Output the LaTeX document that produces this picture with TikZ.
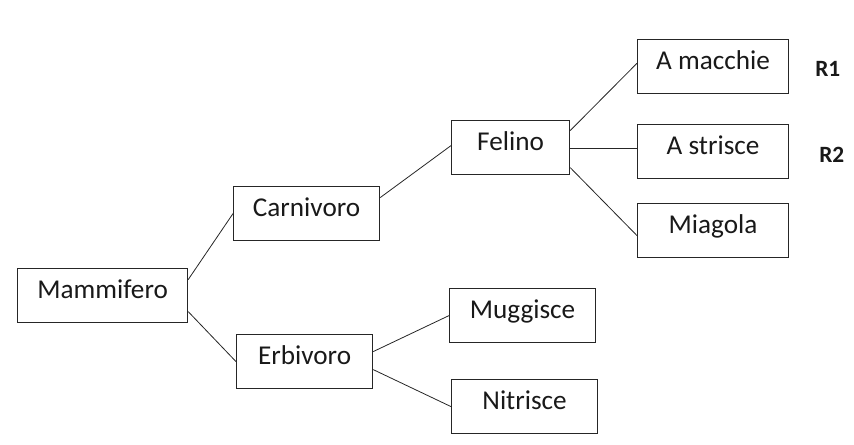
\documentclass[tikz,border=0pt]{standalone}
\usepackage{fontspec}
\setmainfont{Carlito}
\begin{document}
\begin{tikzpicture}[x=0.75pt,y=-0.75pt,
  box/.style={draw=black!85, line width=0.9pt, anchor=north west, inner sep=0pt,
    text height=22.5pt, text depth=18pt, align=center,
    font=\fontsize{20.4}{24}\selectfont, text=black!90},
  conn/.style={draw=black!85, line width=0.6pt},
  rlab/.style={anchor=base west, inner sep=0pt, font=\fontsize{17.5}{20}\selectfont\bfseries, text=black!90}]
\useasboundingbox (0,0) rectangle (854,445);
\node[box, minimum width=127.5pt] (mam) at (17,268) {Mammifero};
\node[box, minimum width=109.5pt] (car) at (233,186) {Carnivoro};
\node[box, minimum width=102pt]   (erb) at (236,334) {Erbivoro};
\node[box, minimum width=88.5pt]  (fel) at (451,120) {Felino};
\node[box, minimum width=113.25pt] (mac) at (637,39) {A macchie};
\node[box, minimum width=113.25pt] (str) at (637,124) {A strisce};
\node[box, minimum width=113.25pt] (mia) at (637,203) {Miagola};
\node[box, minimum width=109.5pt] (mug) at (449,288) {Muggisce};
\node[box, minimum width=109.5pt] (nit) at (451,379) {Nitrisce};
\node[rlab] (r1) at (815,77) {R1};
\node[rlab] (r2) at (819,163) {R2};
\draw[conn] ([yshift=12pt]mam.east) -- (car.west);
\draw[conn] ([yshift=-12pt]mam.east) -- (erb.west);
\draw[conn] ([yshift=12pt]car.east) -- ([yshift=1.5pt]fel.west);
\draw[conn] ([yshift=12.75pt]fel.east) -- ([yshift=2.5pt]mac.west);
\draw[conn] ([yshift=-0.75pt]fel.east) -- ([yshift=2.25pt]str.west);
\draw[conn] ([yshift=-15pt]fel.east) -- ([yshift=-3.75pt]mia.west);
\draw[conn] ([yshift=7.5pt]erb.east) -- (mug.west);
\draw[conn] ([yshift=-6pt]erb.east) -- (nit.west);
\end{tikzpicture}
\end{document}
